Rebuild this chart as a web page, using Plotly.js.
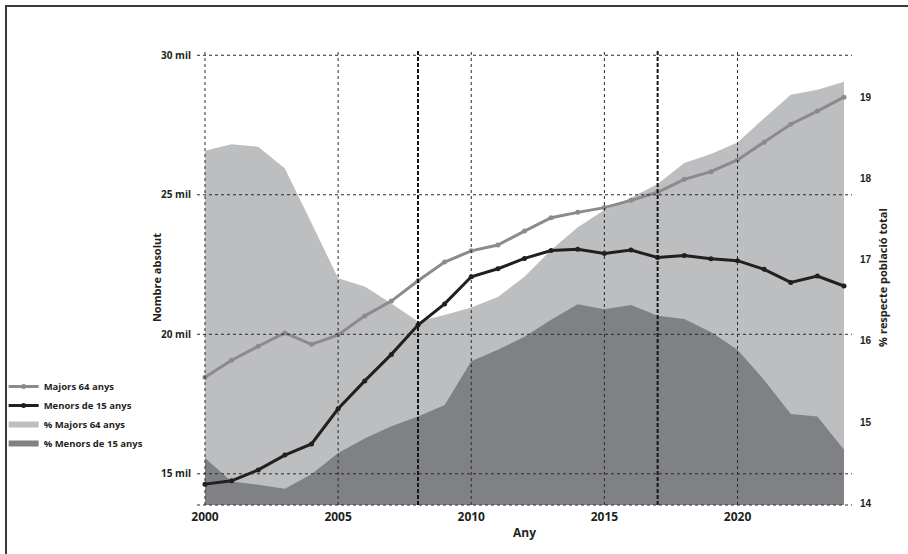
<!DOCTYPE html>
<html>
<head>
<meta charset="utf-8">
<script src="https://cdn.plot.ly/plotly-3.0.1.min.js"></script>
<style>
html,body{margin:0;padding:0;background:#fff;overflow:hidden;}
#wrap{position:relative;width:908px;height:554px;}
#chart{position:absolute;left:0;top:0;width:908px;height:554px;}
#frame{position:absolute;left:5px;top:5px;width:1000px;height:1000px;border-top:2px solid #3a3a3a;border-left:2px solid #3a3a3a;pointer-events:none;}
</style>
</head>
<body>
<div id="wrap"><div id="chart"></div><div id="frame"></div></div>
<script>
const years = [2000,2001,2002,2003,2004,2005,2006,2007,2008,2009,2010,2011,2012,2013,2014,2015,2016,2017,2018,2019,2020,2021,2022,2023,2024];
const majors64 = [18460,19070,19570,20050,19640,19980,20660,21190,21920,22590,22990,23200,23700,24180,24370,24540,24800,25090,25555,25830,26250,26880,27530,28000,28500];
const menors15 = [14630,14750,15140,15670,16070,17330,18330,19280,20330,21090,22060,22350,22720,23000,23050,22900,23020,22750,22820,22710,22640,22330,21860,22090,21730];
const pctMajors64 = [18.34,18.42,18.39,18.12,17.45,16.77,16.67,16.46,16.24,16.32,16.41,16.54,16.79,17.12,17.40,17.61,17.76,17.93,18.19,18.30,18.44,18.74,19.03,19.09,19.19];
const pctMenors15 = [14.56,14.27,14.23,14.18,14.36,14.62,14.80,14.95,15.07,15.21,15.75,15.89,16.05,16.26,16.45,16.39,16.44,16.31,16.27,16.11,15.89,15.52,15.10,15.07,14.66];

const leftTickVals = [15000,20000,25000,30000];
const leftTickText = ['15 mil','20 mil','25 mil','30 mil'];
const rightTickVals = [14,15,16,17,18,19];
const xTickVals = [2000,2005,2010,2015,2020];
const markerYears = [2008,2017];

const names = ['Majors 64 anys','Menors de 15 anys','% Majors 64 anys','% Menors de 15 anys'];

const FONT = 'Open Sans, Liberation Sans, sans-serif';
const INK = '#231f20';

// base axis 'y' = percentage (right side), overlay 'y2' = absolute numbers (left side)
const traces = [
  {x: years, y: pctMajors64, name: names[2], type:'scatter', mode:'none', fill:'tozeroy',
   fillcolor:'#bdbec0', yaxis:'y', legendrank:3},
  {x: years, y: pctMenors15, name: names[3], type:'scatter', mode:'none', fill:'tozeroy',
   fillcolor:'#808184', yaxis:'y', legendrank:4},
  {x: years, y: majors64, name: names[0], type:'scatter', mode:'lines+markers',
   line:{color:'#8b8b8d', width:3}, marker:{color:'#8b8b8d', size:5}, yaxis:'y2', legendrank:1},
  {x: years, y: menors15, name: names[1], type:'scatter', mode:'lines+markers',
   line:{color:INK, width:3}, marker:{color:INK, size:5}, yaxis:'y2', legendrank:2}
];

const shapes = [];
leftTickVals.forEach(v => shapes.push({type:'line', xref:'paper', x0:0, x1:1, yref:'y2', y0:v, y1:v,
  line:{color:'#2a2a2a', width:1, dash:'3px,3px'}, layer:'above'}));
xTickVals.forEach(v => shapes.push({type:'line', xref:'x', x0:v, x1:v, yref:'paper', y0:0, y1:1,
  line:{color:'#2a2a2a', width:1, dash:'3px,3px'}, layer:'above'}));
markerYears.forEach(v => shapes.push({type:'line', xref:'x', x0:v, x1:v, yref:'paper', y0:0, y1:1,
  line:{color:'#151515', width:2, dash:'4px,2px'}, layer:'above'}));
shapes.push({type:'line', xref:'paper', x0:0, x1:1, yref:'paper', y0:0, y1:0,
  line:{color:'#2a2a2a', width:1, dash:'3px,3px'}, layer:'above'});

const layout = {
  width:908, height:554,
  margin:{l:197, r:56, t:50, b:49},
  paper_bgcolor:'rgba(0,0,0,0)', plot_bgcolor:'#ffffff',
  font:{family:FONT, color:INK, size:10, weight:700},
  showlegend:true,
  legend:{xref:'container', yref:'container', x:0.004, y:1-372/554, xanchor:'left', yanchor:'top',
    font:{family:FONT, size:9.5, color:INK, weight:700}, bgcolor:'rgba(0,0,0,0)', tracegroupgap:0,
    traceorder:'normal'},
  xaxis:{range:[1999.7,2024.3], tickvals:xTickVals, ticktext:xTickVals.map(String), showgrid:false,
    zeroline:false, showline:false, ticks:'', ticklabelstandoff:3,
    tickfont:{family:FONT, size:12, color:INK, weight:700},
    title:{text:'Any', font:{family:FONT, size:12, color:INK, weight:700}, standoff:4}},
  yaxis:{range:[13.98,19.58], side:'right', tickvals:rightTickVals,
    ticktext:rightTickVals.map(String), showgrid:false, zeroline:false, showline:false, ticks:'',
    ticklabelstandoff:7,
    tickfont:{family:'Liberation Sans, Arial, sans-serif', size:10, color:INK, weight:700},
    title:{text:'% respecte població total', font:{family:FONT, size:11, color:INK, weight:700}, standoff:8}},
  yaxis2:{range:[13882,30189], overlaying:'y', side:'left', tickvals:leftTickVals, ticktext:leftTickText,
    showgrid:false, zeroline:false, showline:false, ticks:'', ticklabelstandoff:5,
    tickfont:{family:FONT, size:10, color:INK, weight:700},
    title:{text:'Nombre absolut', font:{family:FONT, size:11, color:INK, weight:700}, standoff:16}},
  shapes:shapes
};

Plotly.newPlot('chart', traces, layout, {staticPlot:true, displayModeBar:false});
</script>
</body>
</html>
